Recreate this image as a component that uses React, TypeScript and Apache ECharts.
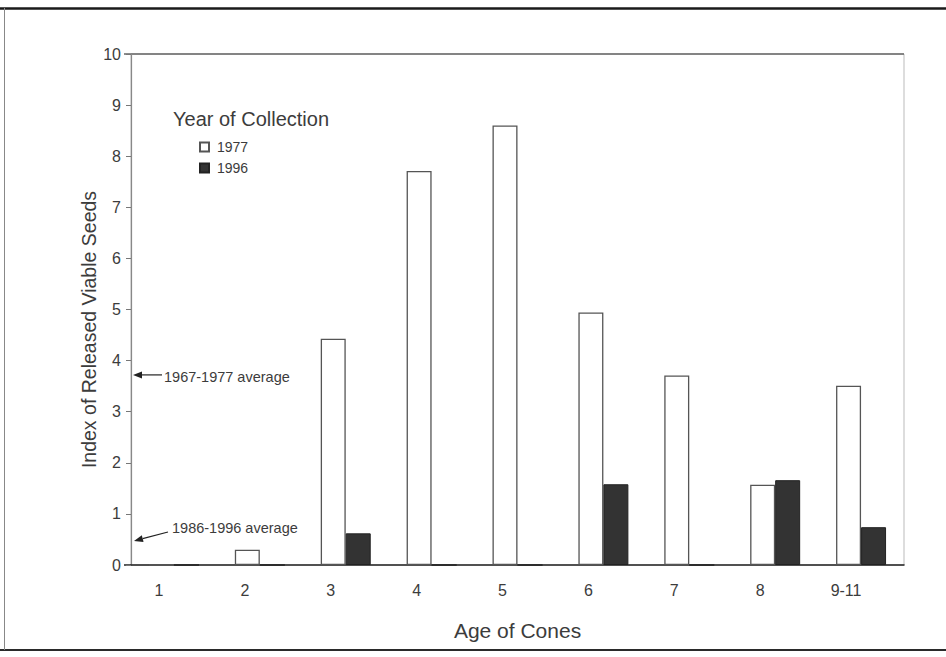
import React, { useEffect, useRef } from "react";
import * as echarts from "echarts";

const categories = ["1", "2", "3", "4", "5", "6", "7", "8", "9-11"];
const series1977 = [0, 0.3, 4.43, 7.71, 8.6, 4.94, 3.71, 1.57, 3.51];
const series1996 = [0, 0, 0.62, 0, 0, 1.58, 0, 1.66, 0.74];
const yTicks = { min: 0, max: 10, interval: 1 };
const avg1967_1977 = 3.72;
const avg1986_1996 = 0.47;

const FONT = "'Liberation Sans', Arial, sans-serif";
const TXT = "#3c3c3c";

export default function App() {
  const ref = useRef<HTMLDivElement>(null);
  useEffect(() => {
    if (!ref.current) return;
    const chart = echarts.init(ref.current, undefined, { renderer: "svg" });
    const option: any = {
      animation: false,
      backgroundColor: "#ffffff",
      textStyle: { fontFamily: FONT },
      title: {
        text: "Year of Collection",
        left: 168,
        top: 104,
        textStyle: { fontFamily: FONT, fontSize: 20, fontWeight: "normal", color: TXT },
      },
      legend: {
        orient: "vertical",
        left: 194,
        top: 135,
        itemWidth: 9,
        itemHeight: 9,
        itemGap: 7,
        icon: "rect",
        textStyle: { fontFamily: FONT, fontSize: 14, color: TXT, padding: [0, 0, 0, 3] },
        data: ["1977", "1996"],
      },
      grid: {
        left: 131,
        right: 42,
        top: 54,
        bottom: 92,
        show: true,
        borderColor: "#bbbbbb",
        borderWidth: 1,
      },
      xAxis: {
        type: "category",
        data: categories,
        name: "Age of Cones",
        nameLocation: "middle",
        nameGap: 55,
        nameMoveOverlap: false,
        nameTextStyle: { fontFamily: FONT, fontSize: 21, color: TXT },
        axisLine: { lineStyle: { color: "#222", width: 1.5 } },
        axisTick: { show: false },
        axisLabel: {
          fontFamily: FONT,
          fontSize: 16,
          color: TXT,
          margin: 17,
          padding: [0, 30, 0, 0],
        },
      },
      yAxis: {
        type: "value",
        min: yTicks.min,
        max: yTicks.max,
        interval: yTicks.interval,
        name: "Index of Released Viable Seeds",
        nameLocation: "middle",
        nameGap: 32,
        nameMoveOverlap: false,
        nameTextStyle: { fontFamily: FONT, fontSize: 19.5, color: TXT, padding: [0, 40, 0, 0] },
        axisLine: { show: true, lineStyle: { color: "#888", width: 1.2 } },
        axisTick: { show: true, length: 5, lineStyle: { color: "#777" } },
        splitLine: { show: false },
        axisLabel: { fontFamily: FONT, fontSize: 16, color: TXT, margin: 10 },
      },
      series: [
        {
          name: "1977",
          type: "bar",
          data: series1977,
          barWidth: 25,
          barGap: "0%",
          itemStyle: { color: "#ffffff", borderColor: "#555", borderWidth: 1.3 },
        },
        {
          name: "1996",
          type: "bar",
          data: series1996,
          barWidth: 25,
          itemStyle: { color: "#333333", borderColor: "#222", borderWidth: 1 },
        },
      ],
    };
    chart.setOption(option);

    const y1 = chart.convertToPixel({ yAxisIndex: 0 }, avg1967_1977) as number;
    const y2 = chart.convertToPixel({ yAxisIndex: 0 }, avg1986_1996) as number;
    const yTop = chart.convertToPixel({ yAxisIndex: 0 }, yTicks.max) as number;
    const yBot = chart.convertToPixel({ yAxisIndex: 0 }, yTicks.min) as number;
    const ax = 133;
    const arrow = (x1: number, yy1: number, x2: number, yy2: number) => {
      const ang = Math.atan2(yy2 - yy1, x2 - x1);
      const L = 9;
      const W = 3.5;
      const bx = x2 - L * Math.cos(ang);
      const by = yy2 - L * Math.sin(ang);
      const px = -Math.sin(ang);
      const py = Math.cos(ang);
      return [
        {
          type: "line",
          shape: { x1, y1: yy1, x2: bx, y2: by },
          style: { stroke: "#222", lineWidth: 1.2 },
        },
        {
          type: "polygon",
          shape: {
            points: [
              [x2, yy2],
              [bx + px * W, by + py * W],
              [bx - px * W, by - py * W],
            ],
          },
          style: { fill: "#222" },
        },
      ];
    };
    chart.setOption({
      graphic: [
        { type: "line", shape: { x1: 0, y1: 8.5, x2: 946, y2: 8.5 }, style: { stroke: "#1a1a1a", lineWidth: 2.5 } },
        { type: "line", shape: { x1: 0, y1: 650, x2: 946, y2: 650 }, style: { stroke: "#2a2a2a", lineWidth: 2 } },
        { type: "line", shape: { x1: 4.5, y1: 8, x2: 4.5, y2: 650 }, style: { stroke: "#888", lineWidth: 1 } },
        { type: "line", shape: { x1: 124, y1: yTop, x2: 904, y2: yTop }, style: { stroke: "#666", lineWidth: 1.3 } },
        { type: "line", shape: { x1: 124, y1: yBot, x2: 131, y2: yBot }, style: { stroke: "#222", lineWidth: 1.5 } },
        ...arrow(162, y1, ax, y1),
        ...arrow(168, y2 - 9, ax + 1, y2),
        {
          type: "text",
          x: 164,
          y: y1 + 2,
          style: { text: "1967-1977 average", fontFamily: FONT, fontSize: 14.5, fill: TXT, verticalAlign: "middle" },
        },
        {
          type: "text",
          x: 172,
          y: y2 - 13,
          style: { text: "1986-1996 average", fontFamily: FONT, fontSize: 14.5, fill: TXT, verticalAlign: "middle" },
        },
      ],
    });
    return () => chart.dispose();
  }, []);
  return (
    <div
      ref={ref}
      style={{ position: "fixed", left: 0, top: 0, width: 946, height: 657, background: "#fff" }}
    />
  );
}
